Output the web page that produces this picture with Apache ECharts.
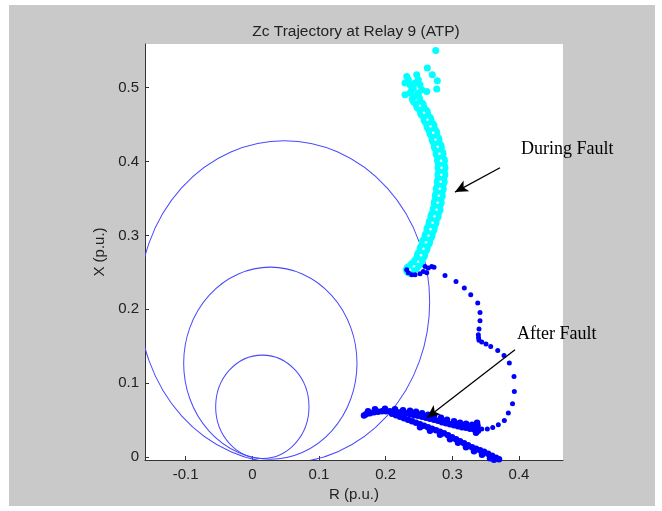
<!DOCTYPE html>
<html>
<head>
<meta charset="utf-8">
<script src="https://cdn.jsdelivr.net/npm/echarts@6/dist/echarts.min.js"></script>
<style>
html,body{margin:0;padding:0;background:#fff;}
#bg{position:absolute;left:9px;top:5px;width:646px;height:501px;background:#c9c9c9;}
#chart{position:absolute;left:0;top:0;width:662px;height:511px;}
</style>
</head>
<body>
<div id="bg"></div>
<div id="chart"></div>
<script>
// ---- data ----
const titleText = 'Zc Trajectory at Relay 9 (ATP)';
const xName = 'R (p.u.)';
const yName = 'X (p.u.)';
const xTicks = [-0.1, 0, 0.1, 0.2, 0.3, 0.4];
const yTicks = [0, 0.1, 0.2, 0.3, 0.4, 0.5];
const xRange = [-0.161, 0.466];
const yRange = [-0.004, 0.559];

// mho circles: centre R, centre X, radius
const circleR0 = [0.048, 0.027, 0.015];
const circleX0 = [0.21, 0.127, 0.068];
const circleRad = [0.218, 0.13, 0.07];

// during fault - dense band
const duringBand = [
  [0.2365,0.2534],[0.2425,0.2582],[0.2485,0.2643],[0.2530,0.2731],[0.2568,0.2819],
  [0.2605,0.2907],[0.2643,0.2995],[0.2673,0.3083],[0.2703,0.3171],[0.2733,0.3258],
  [0.2763,0.3346],[0.2781,0.3441],[0.2797,0.3536],[0.2812,0.3631],[0.2826,0.3725],
  [0.2836,0.3820],[0.2838,0.3915],[0.2830,0.4009],[0.2808,0.4104],[0.2782,0.4199],
  [0.2748,0.4294],[0.2713,0.4388],[0.2673,0.4476],[0.2628,0.4564],[0.2575,0.4659],
  [0.2515,0.4754],[0.2455,0.4842]
];
// during fault - cluster and stray samples at the top
const duringTop = [
  [0.2316,0.5150],[0.2290,0.5061],[0.2365,0.5038],[0.2466,0.5173],[0.2490,0.5105],
  [0.2415,0.4993],[0.2541,0.4970],[0.2616,0.4947],[0.2290,0.4903],[0.2365,0.4926],
  [0.2440,0.4880],[0.2490,0.4926],[0.2440,0.5061],[0.2340,0.5105],[0.2515,0.5038],
  [0.2391,0.4970],
  [0.2751,0.5502],[0.2625,0.5264],[0.2700,0.5173],[0.2775,0.5092],[0.2766,0.4980]
];
// after fault - squiggle and trail
const afterTrail = [
  [0.2316,0.2535],[0.2340,0.2494],[0.2391,0.2467],[0.2440,0.2467],[0.2515,0.2480],
  [0.2565,0.2511],[0.2591,0.2579],[0.2616,0.2494],[0.2640,0.2558],[0.2691,0.2579],
  [0.2725,0.2568],
  [0.2890,0.2457],[0.3055,0.2376],[0.3180,0.2287],[0.3276,0.2196],[0.3381,0.2084],
  [0.3415,0.1957],[0.3415,0.1844],[0.3400,0.1732],[0.3390,0.1655],[0.3393,0.1614],
  [0.3400,0.1581],[0.3441,0.1556],[0.3505,0.1529],[0.3576,0.1497],[0.3681,0.1443],
  [0.3775,0.1375],[0.3855,0.1272],[0.3925,0.1091],[0.3930,0.0888],[0.3903,0.0721],
  [0.3840,0.0595],[0.3780,0.0495],[0.3690,0.0437],[0.3606,0.0401],[0.3525,0.0379],
  [0.3441,0.0379]
];
// after fault - upper dense branch
const afterUpper = [
  [0.1675,0.0561],[0.1735,0.0620],
  [0.1705,0.0579],[0.1765,0.0593],[0.1825,0.0606],[0.1885,0.0613],[0.1945,0.0620],
  [0.2005,0.0620],[0.2065,0.0620],[0.2125,0.0613],[0.2185,0.0606],[0.2245,0.0599],
  [0.2305,0.0593],[0.2365,0.0579],[0.2425,0.0566],[0.2485,0.0559],[0.2545,0.0545],
  [0.2605,0.0532],[0.2665,0.0518],[0.2725,0.0505],[0.2785,0.0491],[0.2845,0.0471],
  [0.2905,0.0457],[0.2965,0.0444],[0.3025,0.0430],[0.3085,0.0417],[0.3145,0.0403],
  [0.3205,0.0396],[0.3265,0.0383],[0.3325,0.0376],[0.3371,0.0396],
  [0.3371,0.0464],[0.3378,0.0424],[0.3385,0.0356],[0.3355,0.0329],
  [0.2365,0.0627],[0.2455,0.0613],[0.2545,0.0593],[0.2635,0.0572],[0.2725,0.0559],
  [0.2830,0.0532],[0.2920,0.0505],[0.3025,0.0484],[0.3115,0.0464],[0.3205,0.0451],
  [0.3295,0.0437],
  [0.1840,0.0647],[0.1990,0.0654],[0.2140,0.0647],[0.2260,0.0633]
];
// after fault - lower dense branch
const afterLower = [
  [0.2095,0.0586],[0.2155,0.0566],[0.2215,0.0545],[0.2275,0.0525],[0.2335,0.0505],
  [0.2395,0.0484],[0.2455,0.0464],[0.2515,0.0444],[0.2575,0.0424],[0.2635,0.0403],
  [0.2695,0.0383],[0.2755,0.0363],[0.2815,0.0342],[0.2875,0.0322],[0.2935,0.0295],
  [0.2995,0.0268],[0.3055,0.0241],[0.3115,0.0214],[0.3175,0.0187],[0.3235,0.0160],
  [0.3295,0.0133],[0.3355,0.0112],[0.3415,0.0092],[0.3475,0.0072],[0.3535,0.0045],
  [0.3595,0.0018],[0.3655,-0.0009],[0.3700,-0.0030],
  [0.2515,0.0403],[0.2665,0.0356],[0.2815,0.0302],[0.2965,0.0241],[0.3085,0.0194],
  [0.3205,0.0133],[0.3325,0.0078],[0.3445,0.0031],[0.3565,-0.0016],[0.3625,-0.0037]
];
// annotation arrows (tail, head) in data units
const duringArrow = [[0.3715,0.3915],[0.304,0.3586]];
const afterArrow = [[0.3940,0.1452],[0.262,0.0532]];
const duringLabel = 'During Fault';
const afterLabel = 'After Fault';

// ---- chart ----
const chart = echarts.init(document.getElementById('chart'), null, {renderer:'canvas'});
const font = "'Liberation Sans', Arial, Helvetica, sans-serif";
const circleData = circleR0.map((c,i)=>[c, circleX0[i], circleRad[i]]);
const fmt = v => (Math.abs(v) < 1e-9 ? '0' : String(+v.toFixed(2)));

const option = {
  animation: false,
  backgroundColor: 'transparent',
  title: {
    text: titleText, left: 351, top: 19, textAlign: 'center',
    textStyle: {fontFamily: font, fontSize: 15.5, fontWeight: 'normal', color: '#222'}
  },
  grid: {left: 145, top: 44, width: 418, height: 416, show: true, backgroundColor: '#fff', borderWidth: 0, containLabel: false},
  xAxis: {
    type: 'value', min: xRange[0], max: xRange[1],
    name: xName, nameLocation: 'middle', nameGap: 27,
    nameTextStyle: {fontFamily: font, fontSize: 15, color: '#222'},
    axisLine: {show: true, onZero: false, lineStyle: {color: '#333', width: 1}},
    axisTick: {show: true, inside: true, length: 4, customValues: xTicks, lineStyle: {color: '#333'}},
    axisLabel: {customValues: xTicks, fontFamily: font, fontSize: 15, color: '#222', margin: 7, formatter: fmt},
    splitLine: {show: false}
  },
  yAxis: {
    type: 'value', min: yRange[0], max: yRange[1],
    name: yName, nameLocation: 'middle', nameGap: 31,
    nameTextStyle: {fontFamily: font, fontSize: 15, color: '#222'},
    axisLine: {show: true, onZero: false, lineStyle: {color: '#333', width: 1}},
    axisTick: {show: true, inside: true, length: 4, customValues: yTicks, lineStyle: {color: '#333'}},
    axisLabel: {customValues: yTicks, fontFamily: font, fontSize: 15, color: '#222', margin: 6, formatter: fmt},
    splitLine: {show: false}
  },
  series: [
    {
      type: 'custom', clip: true, silent: true,
      data: circleData,
      encode: {x: 0, y: 1},
      renderItem: function (params, api) {
        const c = api.coord([api.value(0), api.value(1)]);
        const s = api.size([api.value(2), api.value(2)]);
        return {
          type: 'circle', x: c[0], y: c[1], scaleX: 1, scaleY: s[1] / s[0],
          shape: {cx: 0, cy: 0, r: s[0]},
          style: {fill: 'transparent', stroke: '#4848ff', lineWidth: 1, strokeNoScale: true}
        };
      }
    },
    {
      type: 'scatter', data: duringBand, symbol: 'circle', symbolSize: 14,
      itemStyle: {color: '#00ffff', opacity: 1}, silent: true
    },
    {
      type: 'scatter', data: duringBand, symbol: 'circle', symbolSize: 2.5,
      itemStyle: {color: '#ffffff', opacity: 1}, silent: true
    },
    {
      type: 'scatter', data: duringTop, symbol: 'circle', symbolSize: 7,
      itemStyle: {color: '#00ffff', opacity: 1}, silent: true
    },
    {
      type: 'scatter', data: afterTrail, symbol: 'circle', symbolSize: 5,
      itemStyle: {color: '#0000ff', opacity: 1}, silent: true
    },
    {
      type: 'scatter', data: afterUpper, symbol: 'circle', symbolSize: 6.5,
      itemStyle: {color: '#0000ff', opacity: 1}, silent: true
    },
    {
      type: 'scatter', data: afterLower, symbol: 'circle', symbolSize: 6.5,
      itemStyle: {color: '#0000ff', opacity: 1}, silent: true
    },
    {
      type: 'scatter', data: [], silent: true,
      markLine: {
        silent: true, animation: false,
        symbol: ['none', 'arrow'], symbolSize: [9, 13],
        label: {show: false},
        lineStyle: {color: '#000', width: 1.3, type: 'solid'},
        data: [
          [{coord: duringArrow[0]}, {coord: duringArrow[1]}],
          [{coord: afterArrow[0]}, {coord: afterArrow[1]}]
        ]
      }
    }
  ],
  graphic: [
    {type: 'text', left: 521, top: 140, style: {text: duringLabel, font: "18px 'Liberation Serif', 'Times New Roman', serif", fill: '#000'}},
    {type: 'text', left: 517, top: 325, style: {text: afterLabel, font: "18px 'Liberation Serif', 'Times New Roman', serif", fill: '#000'}}
  ]
};
chart.setOption(option);
</script>
</body>
</html>
